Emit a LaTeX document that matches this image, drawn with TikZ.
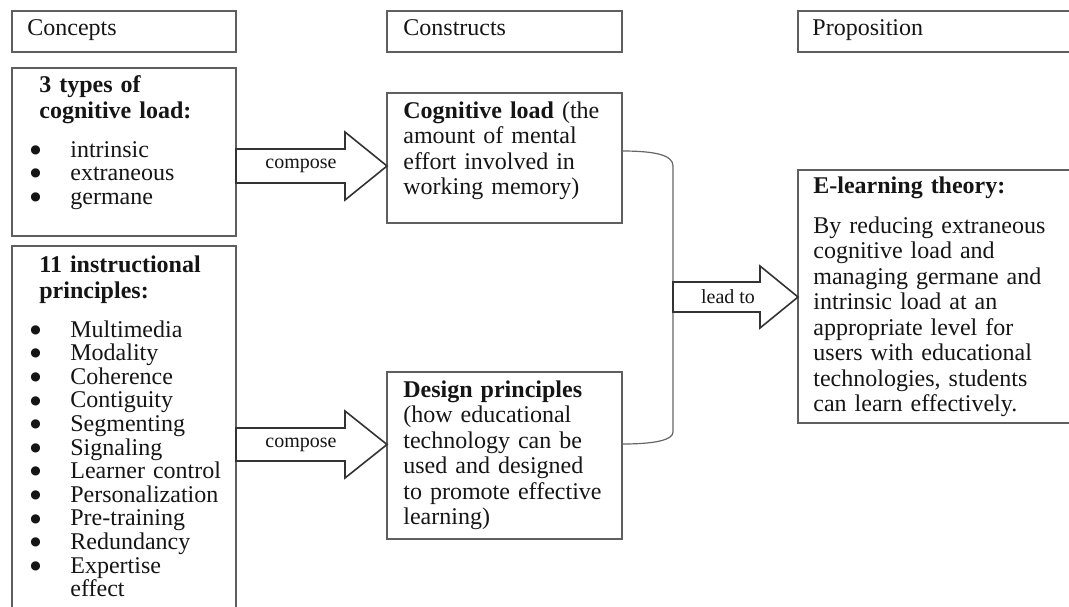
\documentclass[tikz,border=0pt]{standalone}
\usepackage{fontspec}
\setmainfont{Liberation Serif}
\newfontfamily\dotfont{DejaVu Sans}
\definecolor{boxgray}{HTML}{5F5F5F}
\definecolor{inkgray}{HTML}{151515}
\newcommand{\bitem}[1]{\makebox[20pt][l]{\raisebox{1.9pt}{\dotfont\fontsize{6}{6}\selectfont ●}}#1}

\begin{document}
\begin{tikzpicture}[x=0.5pt, y=-0.5pt,
    box/.style={draw=boxgray, line width=0.6pt, anchor=north west, inner sep=0pt, outer sep=0pt},
    txt/.style={anchor=base west, inner sep=0pt, text=inkgray, font=\fontsize{12}{12.75}\selectfont},
    par/.style={txt, text width=120pt, align=left},
    lst/.style={par, font=\fontsize{12}{11.8}\selectfont},
    bigarrow/.style={draw=black!80, line width=0.8pt, fill=white, line join=miter},
    lbl/.style={inner sep=0pt, text=inkgray, font=\fontsize{10}{12}\selectfont},
    brace/.style={draw=black!60, line width=0.6pt}]
  \useasboundingbox (0,0) rectangle (1069,606);
  \clip (0,0) rectangle (1069,606);

  % column headings
  \node[box, minimum width=112pt, minimum height=20.5pt] (concepts) at (12,11) {};
  \node[txt] (conceptsT) at (27,35) {Concepts};
  \node[box, minimum width=117.5pt, minimum height=20.5pt] (constructs) at (387,11) {};
  \node[txt] (constructsT) at (403,35) {Constructs};
  \node[box, minimum width=141pt, minimum height=20.5pt] (proposition) at (798,11) {};
  \node[txt] (propositionT) at (812,35) {Proposition};

  % concepts
  \node[box, minimum width=112pt, minimum height=84pt] (types) at (12,68) {};
  \node[lst] (typesT) at (30,92) {\hspace*{4.5pt}\textbf{3 types of}\\[1.2pt]
    \hspace*{4.5pt}\textbf{cognitive load:}\\[7.7pt]
    \bitem{intrinsic}\\ \bitem{extraneous}\\ \bitem{germane}};
  \node[box, minimum width=112pt, minimum height=200pt] (principles) at (12,246) {};
  \node[lst] (principlesT) at (30,272) {\hspace*{4.5pt}\textbf{11 instructional}\\[1.2pt]
    \hspace*{4.5pt}\textbf{principles:}\\[7.7pt]
    \bitem{Multimedia}\\ \bitem{Modality}\\ \bitem{Coherence}\\
    \bitem{Contiguity}\\ \bitem{Segmenting}\\ \bitem{Signaling}\\
    \bitem{Learner control}\\ \bitem{Personalization}\\ \bitem{Pre-training}\\
    \bitem{Redundancy}\\ \bitem{Expertise}\\ \hspace*{20pt}effect};

  % constructs
  \node[box, minimum width=117.5pt, minimum height=65pt] (cog) at (387,93) {};
  \node[par] (cogT) at (403,118) {\textbf{Cognitive load} (the\\ amount of mental\\
    effort involved in\\ working memory)};
  \node[box, minimum width=117.5pt, minimum height=83.5pt] (design) at (387,372) {};
  \node[par] (designT) at (403,397) {\textbf{Design principles}\\ (how educational\\
    technology can be\\ used and designed\\ to promote effective\\ learning)};

  % proposition
  \node[box, minimum width=141pt, minimum height=126.5pt] (elearn) at (798,170) {};
  \node[par] (elearnT) at (813,193) {\textbf{E-learning theory:}\\[7.3pt]
    By reducing extraneous\\ cognitive load and\\ managing germane and\\
    intrinsic load at an\\ appropriate level for\\ users with educational\\
    technologies, students\\ can learn effectively.};

  % compose arrows
  \draw[bigarrow] (types.east |- 0,149) -- (345,149) -- (345,132) -- (cog.west |- 0,166)
    -- (345,200) -- (345,183) -- (types.east |- 0,183) -- cycle;
  \node[lbl] (compose1) at (301,166) {compose};
  \draw[bigarrow] (principles.east |- 0,428) -- (345,428) -- (345,411)
    -- (design.west |- 0,444.5) -- (345,478) -- (345,461) -- (principles.east |- 0,461) -- cycle;
  \node[lbl] (compose2) at (301,444.5) {compose};

  % bracket and lead to
  \coordinate (join) at (673,297);
  \draw[brace] (cog.east |- 0,151) .. controls (655,151) and (673,155) .. (673,166)
    -- (673,432) .. controls (673,440) and (655,444) .. (design.east |- 0,444);
  \draw[bigarrow] (join |- 0,282) -- (760,282) -- (760,266) -- (elearn.west |- join)
    -- (760,328) -- (760,312) -- (join |- 0,312) -- cycle;
  \node[lbl] (leadto) at (728,297) {lead to};
\end{tikzpicture}
\end{document}
